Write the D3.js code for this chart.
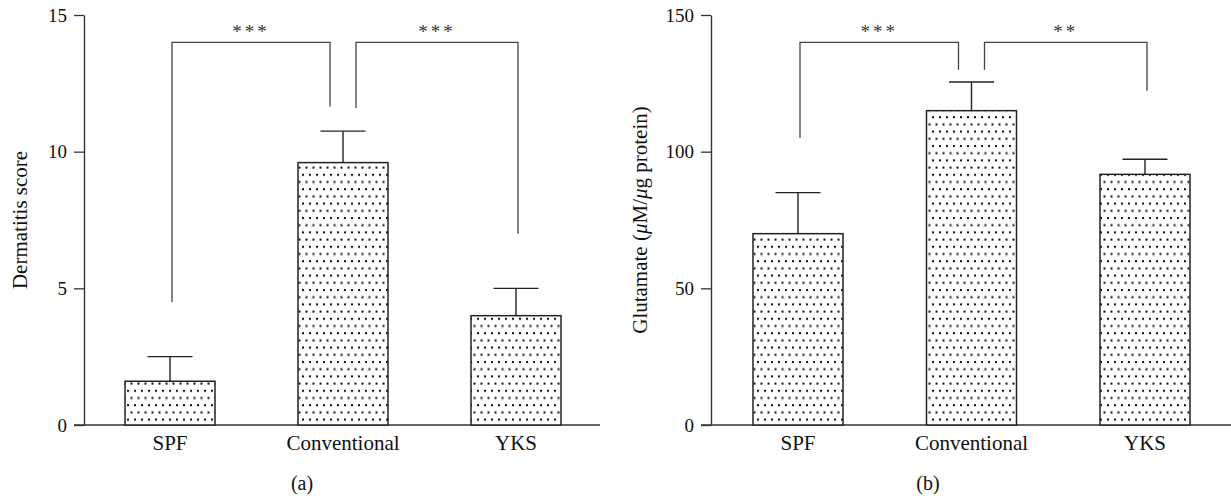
<!DOCTYPE html>
<html>
<head>
<meta charset="utf-8">
<script src="https://cdn.jsdelivr.net/npm/d3@7.9.0/dist/d3.min.js"></script>
<style>
  body { margin: 0; background: #fff; }
  svg { display: block; font-family: "Liberation Serif", "DejaVu Serif", serif; }
</style>
</head>
<body>
<svg id="chart" width="1231" height="496"></svg>
<script>
// groups shared by both panels
const groups = ['SPF', 'Conventional', 'YKS'];

// panel (a): dermatitis score
const scoreMean = [1.6, 9.6, 4.0];
const scoreErr = [0.9, 1.15, 1.0];
const scoreTicks = [0, 5, 10, 15];

// panel (b): glutamate
const gluMean = [70, 115, 91.7];
const gluErr = [15, 10.5, 5.5];
const gluTicks = [0, 50, 100, 150];

// significance brackets: [from, to, bottom at from, bottom at to, top, label]
const scoreSig = [
  ['SPF', 'Conventional', 4.5, 11.65, 14.0, '***'],
  ['Conventional', 'YKS', 11.6, 7.0, 14.0, '***']
];
const gluSig = [
  ['SPF', 'Conventional', 105, 130, 140, '***'],
  ['Conventional', 'YKS', 130, 122.3, 140, '**']
];

const svg = d3.select('#chart');

// dotted fill
const pat = svg.append('defs').append('pattern')
  .attr('id', 'dots')
  .attr('patternUnits', 'userSpaceOnUse')
  .attr('width', 7).attr('height', 14.4);
pat.append('rect').attr('width', 7).attr('height', 14.4).attr('fill', '#fff');
pat.append('rect').attr('x', 1).attr('y', 1).attr('width', 2).attr('height', 2).attr('fill', '#111');
pat.append('rect').attr('x', 4.5).attr('y', 8.2).attr('width', 2).attr('height', 2).attr('fill', '#111');

function drawPanel(opt) {
  const g = svg.append('g');
  const y = d3.scaleLinear().domain([0, opt.max]).range([425, 15]);
  const x = d3.scalePoint().domain(groups).range(opt.xRange);
  const barW = 90;

  // y axis
  const yAxis = g.append('g')
    .attr('transform', `translate(${opt.axisX},0)`)
    .call(d3.axisLeft(y).tickValues(opt.ticks).tickSize(10).tickSizeOuter(0).tickPadding(7))
    .attr('font-family', null).attr('font-size', null);
  yAxis.select('.domain').attr('stroke', '#333').attr('stroke-width', 1.4);
  yAxis.selectAll('.tick line').attr('stroke', '#333').attr('stroke-width', 1.3);
  yAxis.selectAll('.tick text').attr('font-size', 19).attr('fill', '#111');

  // x axis line
  g.append('line')
    .attr('x1', opt.axisX - 10).attr('x2', opt.xEnd)
    .attr('y1', y(0)).attr('y2', y(0))
    .attr('stroke', '#333').attr('stroke-width', 1.4);

  g.selectAll('.xlab').data(groups).join('text')
    .attr('x', d => x(d)).attr('y', 450)
    .attr('text-anchor', 'middle')
    .attr('font-size', 21).attr('fill', '#111')
    .text(d => d);

  // bars
  g.selectAll('.bar').data(groups).join('rect')
    .attr('x', d => x(d) - barW / 2)
    .attr('y', (d, i) => y(opt.mean[i]))
    .attr('width', barW)
    .attr('height', (d, i) => y(0) - y(opt.mean[i]))
    .attr('fill', 'url(#dots)')
    .attr('stroke', '#222').attr('stroke-width', 1.5);

  // error bars
  groups.forEach((d, i) => {
    const top = y(opt.mean[i] + opt.err[i]);
    g.append('line')
      .attr('x1', x(d)).attr('x2', x(d))
      .attr('y1', y(opt.mean[i])).attr('y2', top)
      .attr('stroke', '#222').attr('stroke-width', 1.4);
    g.append('line')
      .attr('x1', x(d) - 22.5).attr('x2', x(d) + 22.5)
      .attr('y1', top).attr('y2', top)
      .attr('stroke', '#222').attr('stroke-width', 1.4);
  });

  // brackets
  opt.sig.forEach(s => {
    const gap = 13;
    const xa = x(s[0]) + (s[0] === 'Conventional' ? gap : 2);
    const xb = x(s[1]) + (s[1] === 'Conventional' ? -gap : 2);
    const path = d3.path();
    path.moveTo(xa, y(s[2]));
    path.lineTo(xa, y(s[4]));
    path.lineTo(xb, y(s[4]));
    path.lineTo(xb, y(s[3]));
    g.append('path')
      .attr('d', path.toString())
      .attr('fill', 'none')
      .attr('stroke', '#444').attr('stroke-width', 1.3);
    g.append('text')
      .attr('x', (xa + xb) / 2).attr('y', y(s[4]) - 4)
      .attr('text-anchor', 'middle')
      .attr('font-size', 19).attr('letter-spacing', 3).attr('fill', '#333')
      .text(s[5]);
  });

  // y title
  const t = g.append('text')
    .attr('transform', `translate(${opt.titleX},220) rotate(-90)`)
    .attr('text-anchor', 'middle')
    .attr('font-size', 21).attr('fill', '#111');
  opt.title(t);

  g.append('text')
    .attr('x', opt.labelX).attr('y', 490)
    .attr('text-anchor', 'middle')
    .attr('font-size', 20).attr('fill', '#111')
    .text(opt.label);
}

drawPanel({
  max: 15, ticks: scoreTicks, mean: scoreMean, err: scoreErr, sig: scoreSig,
  axisX: 84, xEnd: 600, xRange: [170, 516], titleX: 27, labelX: 302, label: '(a)',
  title: t => t.text('Dermatitis score')
});

drawPanel({
  max: 150, ticks: gluTicks, mean: gluMean, err: gluErr, sig: gluSig,
  axisX: 711, xEnd: 1231, xRange: [798, 1145], titleX: 647, labelX: 928, label: '(b)',
  title: t => {
    t.append('tspan').text('Glutamate (');
    t.append('tspan').attr('font-style', 'italic').text('μ');
    t.append('tspan').text('M/');
    t.append('tspan').attr('font-style', 'italic').text('μ');
    t.append('tspan').text('g protein)');
  }
});
</script>
</body>
</html>
